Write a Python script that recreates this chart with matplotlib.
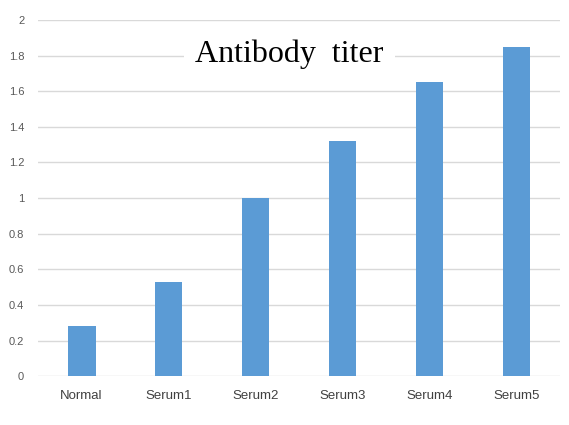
import matplotlib
matplotlib.use('Agg')
import matplotlib.pyplot as plt

groups = ['Normal', 'Serum1', 'Serum2', 'Serum3', 'Serum4', 'Serum5']
titer = [0.28, 0.53, 1.0, 1.32, 1.65, 1.85]
yticks = [0, 0.2, 0.4, 0.6, 0.8, 1, 1.2, 1.4, 1.6, 1.8, 2]
ylabels = ['0', '0.2', '0.4', '0.6', '0.8', '1', '1.2', '1.4', '1.6', '1.8', '2']

plt.rcParams['font.family'] = ['Liberation Sans', 'DejaVu Sans']

fig = plt.figure(figsize=(5.69, 4.25), dpi=100)
ax = fig.add_axes([0.067, 0.115, 0.917, 0.838])

ax.bar(range(len(groups)), titer, width=0.32, color='#5B9BD5', zorder=2)
ax.set_xlim(-0.5, len(groups) - 0.5)
ax.set_ylim(0, 2)
ax.set_yticks(yticks)
ax.set_yticklabels(ylabels)
ax.set_xticks(range(len(groups)))
ax.set_xticklabels(groups)

ax.grid(axis='y', color='#D9D9D9', linewidth=1, zorder=0)
for s in ['top', 'right', 'left', 'bottom']:
    ax.spines[s].set_visible(False)
ax.tick_params(axis='y', length=0, pad=10, labelsize=8, labelcolor='#595959')
ax.tick_params(axis='x', length=0, pad=10, labelsize=9.5, labelcolor='#404040')

ax.text(0.482, 0.905, 'Antibody  titer', transform=ax.transAxes, ha='center', va='center',
        fontsize=23, family='Liberation Serif', color='black', zorder=3,
        bbox=dict(facecolor='white', edgecolor='none', pad=8))

fig.savefig('out.png', dpi=100)
